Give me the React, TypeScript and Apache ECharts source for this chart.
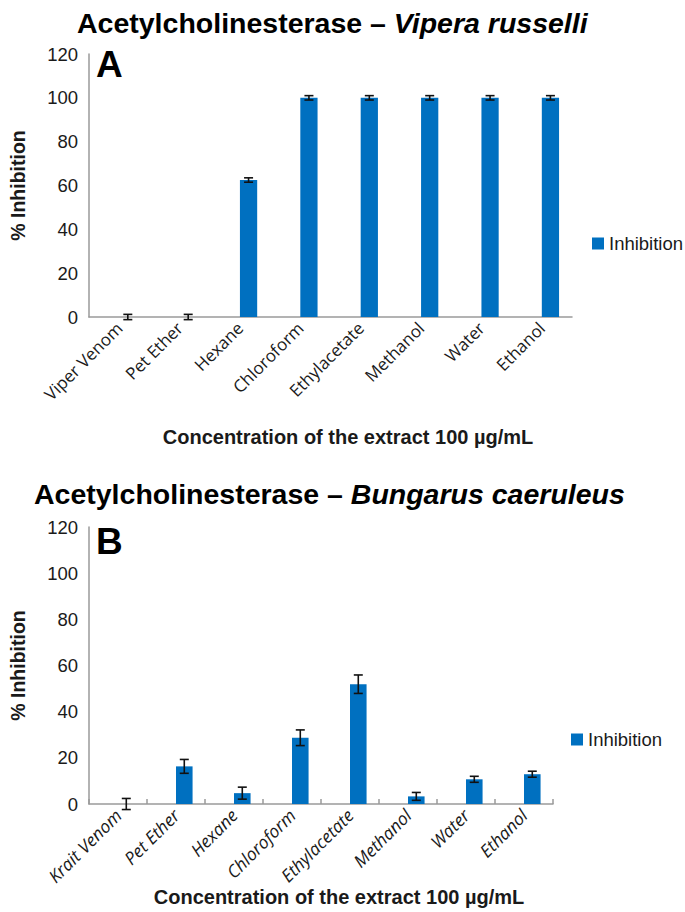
import React, { useEffect, useRef } from 'react';
import * as echarts from 'echarts';

const categoriesA = ['Viper Venom', 'Pet Ether', 'Hexane', 'Chloroform', 'Ethylacetate', 'Methanol', 'Water', 'Ethanol'];
const valuesA = [0, 0, 62.5, 100, 100, 100, 100, 100];
const errorsA = [1.2, 1.2, 1, 1, 1, 1, 1, 1];

const categoriesB = ['Krait Venom', 'Pet Ether', 'Hexane', 'Chloroform', 'Ethylacetate', 'Methanol', 'Water', 'Ethanol'];
const valuesB = [0, 16.3, 4.7, 28.7, 51.9, 3.3, 10.7, 12.9];
const errorsB = [2.4, 3, 2.6, 3.4, 4, 1.7, 1.3, 1.3];

const yMin = 0;
const yMax = 120;
const yInterval = 20;

const titleMain = 'Acetylcholinesterase – ';
const speciesA = 'Vipera russelli';
const speciesB = 'Bungarus caeruleus';
const xTitle = 'Concentration of the extract 100 µg/mL';
const yTitle = '% Inhibition';
const seriesName = 'Inhibition';

const BLUE = '#0070C0';
const AXIS = '#9a9a9a';
const TXT = '#1a1a1a';
const SANS = '"Liberation Sans", Arial, Helvetica, sans-serif';
const LABEL_FONT = '"Open Sans", "Noto Sans", sans-serif';

function errorRender(params: any, api: any) {
  const x = api.value(0);
  const y = api.value(1);
  const e = api.value(2);
  const band = api.size([1, 0])[0];
  const off = band / 7;
  const top = api.coord([x, y + e]);
  const bot = api.coord([x, y - e]);
  const cx = top[0] + off;
  const cap = 4.5;
  const style = { stroke: '#111', lineWidth: 1.6 };
  return {
    type: 'group',
    children: [
      { type: 'line', shape: { x1: cx, y1: top[1], x2: cx, y2: bot[1] }, style },
      { type: 'line', shape: { x1: cx - cap, y1: top[1], x2: cx + cap, y2: top[1] }, style },
      { type: 'line', shape: { x1: cx - cap, y1: bot[1], x2: cx + cap, y2: bot[1] }, style },
    ],
  };
}

function yAxis(gridIndex: number) {
  return {
    type: 'value',
    gridIndex,
    min: yMin,
    max: yMax,
    interval: yInterval,
    axisLine: { show: true, lineStyle: { color: AXIS, width: 1.5 } },
    axisTick: { show: false },
    splitLine: { show: false },
    axisLabel: { fontSize: 18.5, color: TXT, fontFamily: SANS, margin: 11 },
    name: yTitle,
    nameLocation: 'middle',
    nameRotate: 90,
    nameGap: 61,
    nameTextStyle: { fontSize: 19.5, fontWeight: 'bold', color: TXT, fontFamily: SANS },
  };
}

function xAxis(gridIndex: number, cats: string[], italic: boolean, ticks: boolean, size: number) {
  return {
    type: 'category',
    gridIndex,
    data: cats,
    axisLine: { show: true, lineStyle: { color: AXIS, width: 1.5 } },
    axisTick: { show: ticks, inside: true, length: 5, lineStyle: { color: AXIS, width: 1.5 } },
    axisLabel: {
      rotate: 45,
      interval: 0,
      fontSize: size,
      color: TXT,
      fontFamily: LABEL_FONT,
      fontStyle: italic ? 'italic' : 'normal',
      margin: 8,
    },
  };
}

function titleRich() {
  return {
    n: { fontSize: 28.5, fontWeight: 'bold', color: '#000', fontFamily: SANS },
    i: { fontSize: 28.5, fontWeight: 'bold', fontStyle: 'italic', color: '#000', fontFamily: SANS },
  };
}

export default function App() {
  const ref = useRef<HTMLDivElement>(null);
  useEffect(() => {
    if (!ref.current) return;
    const chart = echarts.init(ref.current, undefined, { renderer: 'svg' });
    const blank = (n: number) => new Array(n).fill('-');
    const legendText = { fontSize: 18.5, color: TXT, fontFamily: SANS };
    chart.setOption({
      animation: false,
      backgroundColor: '#fff',
      title: [
        { text: `{n|${titleMain}}{i|${speciesA}}`, left: 72, top: 3, textStyle: { rich: titleRich() } },
        { text: `{n|${titleMain}}{i|${speciesB}}`, left: 29, top: 474, textStyle: { rich: titleRich() } },
      ],
      legend: [
        { data: [seriesName], left: 587, top: 229, icon: 'rect', itemWidth: 12, itemHeight: 12, itemGap: 5, textStyle: legendText },
        { data: [seriesName], left: 566, top: 725, icon: 'rect', itemWidth: 12, itemHeight: 12, itemGap: 5, textStyle: legendText },
      ],
      grid: [
        { left: 79, width: 493, top: 54, height: 263, containLabel: false },
        { left: 79, width: 474, top: 527, height: 277, containLabel: false },
      ],
      xAxis: [xAxis(0, categoriesA, false, false, 17), xAxis(1, categoriesB, true, true, 17.5)],
      yAxis: [yAxis(0), yAxis(1)],
      graphic: [
        { type: 'text', left: 96, top: 46, style: { text: 'A', font: `bold 37px ${SANS}`, fill: '#000' } },
        { type: 'text', left: 96, top: 523, style: { text: 'B', font: `bold 37px ${SANS}`, fill: '#000' } },
        {
          type: 'text', x: 348, y: 437,
          style: { text: xTitle, font: `bold 20px ${SANS}`, fill: TXT, textAlign: 'center', textVerticalAlign: 'middle' },
        },
        {
          type: 'text', x: 339, y: 897,
          style: { text: xTitle, font: `bold 20px ${SANS}`, fill: TXT, textAlign: 'center', textVerticalAlign: 'middle' },
        },
      ],
      series: [
        { name: 'blankA', type: 'bar', xAxisIndex: 0, yAxisIndex: 0, data: blank(8), barGap: '0%', barCategoryGap: '42.86%' },
        {
          name: seriesName, type: 'bar', xAxisIndex: 0, yAxisIndex: 0, data: valuesA,
          barGap: '0%', barCategoryGap: '42.86%', itemStyle: { color: BLUE },
        },
        {
          name: 'errA', type: 'custom', xAxisIndex: 0, yAxisIndex: 0, z: 5,
          data: categoriesA.map((_, i) => [i, valuesA[i], errorsA[i]]),
          encode: { x: 0, y: 1 },
          renderItem: errorRender,
        },
        { name: 'blankB', type: 'bar', xAxisIndex: 1, yAxisIndex: 1, data: blank(8), barGap: '0%', barCategoryGap: '42.86%' },
        {
          name: seriesName, type: 'bar', xAxisIndex: 1, yAxisIndex: 1, data: valuesB,
          barGap: '0%', barCategoryGap: '42.86%', itemStyle: { color: BLUE },
        },
        {
          name: 'errB', type: 'custom', xAxisIndex: 1, yAxisIndex: 1, z: 5,
          data: categoriesB.map((_, i) => [i, valuesB[i], errorsB[i]]),
          encode: { x: 0, y: 1 },
          renderItem: errorRender,
        },
      ],
    });
    return () => chart.dispose();
  }, []);
  return (
    <div
      ref={ref}
      style={{ position: 'fixed', left: 0, top: 0, width: 685, height: 912, background: '#fff' }}
    />
  );
}
